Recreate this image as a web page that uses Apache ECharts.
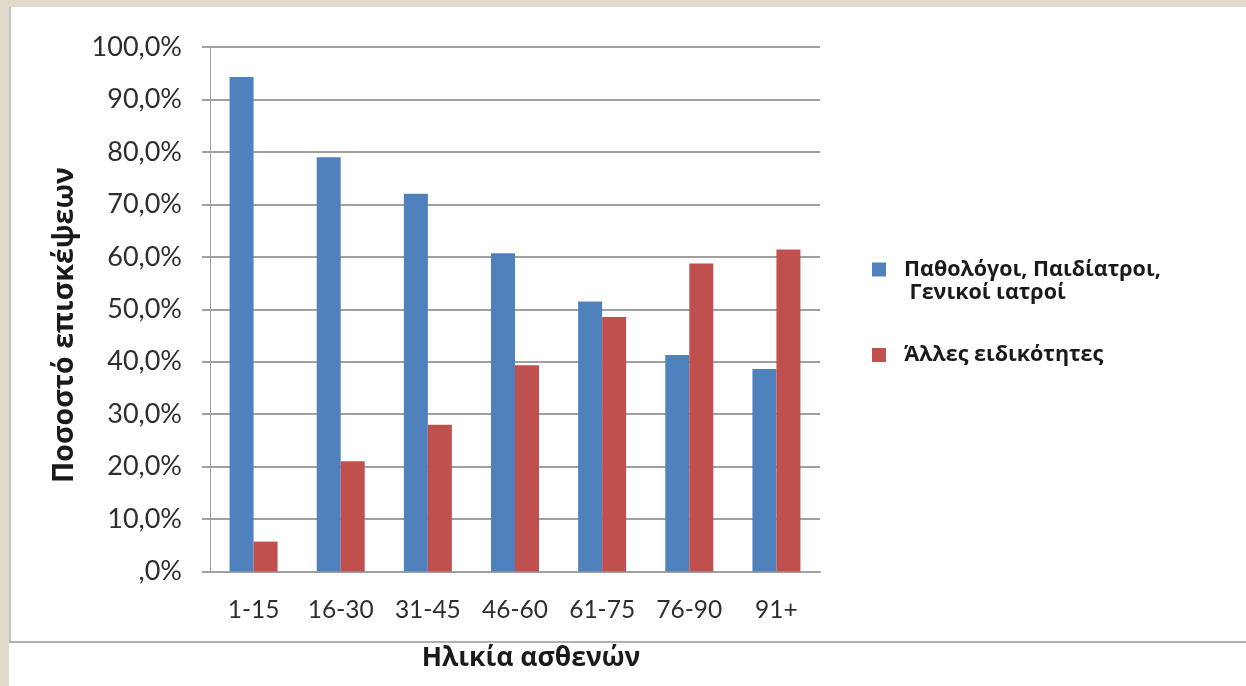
<!DOCTYPE html>
<html>
<head>
<meta charset="utf-8">
<script src="https://cdn.jsdelivr.net/npm/echarts@6/dist/echarts.min.js"></script>
<style>
  html, body { margin: 0; padding: 0; background: #e2dacd; }
  #wrap { position: relative; width: 1246px; height: 686px; overflow: hidden; }
  #panel { position: absolute; left: 9px; top: 7px; right: 0; bottom: 0; background: #ffffff; }
  #chart { position: absolute; left: 0; top: 0; width: 1246px; height: 686px; }
</style>
</head>
<body>
<div id="wrap">
  <div id="panel"></div>
  <div id="chart"></div>
</div>
<script>
// Visit share by patient age group
const ageGroups = ['1-15', '16-30', '31-45', '46-60', '61-75', '76-90', '91+'];
const generalistShare = [94.3, 79.0, 72.0, 60.7, 51.5, 41.3, 38.6];
const specialistShare = [5.7, 21.0, 28.0, 39.3, 48.5, 58.7, 61.4];
const seriesNames = ['Παθολόγοι, Παιδίατροι, Γενικοί ιατροί', 'Άλλες ειδικότητες'];
const legendLines = [['Παθολόγοι, Παιδίατροι,', ' Γενικοί ιατροί'], ['Άλλες ειδικότητες']];
const yTickLabels = [',0%', '10,0%', '20,0%', '30,0%', '40,0%', '50,0%', '60,0%', '70,0%', '80,0%', '90,0%', '100,0%'];
const yAxisTitle = 'Ποσοστό επισκέψεων';
const xAxisTitle = 'Ηλικία ασθενών';

const seriesColors = ['#4f81bd', '#c0504d'];
const labelFont = 'Lato, "Open Sans", sans-serif';
const titleFont = '"Open Sans", "Noto Sans", sans-serif';
const gridGray = '#a0a0a0';
const textDark = '#1a1a1a';
const legendLineHeight = 23;

const chart = echarts.init(document.getElementById('chart'), null, { renderer: 'canvas' });

// One legend block per series; a leading blank line keeps the swatch
// level with the first line of a wrapped name.
function legendFor(i, iconCenterY) {
  const lines = legendLines[i];
  const shown = lines.length > 1 ? ['', ...lines] : lines;
  return {
    data: [seriesNames[i]],
    left: 872,
    top: iconCenterY - (shown.length * legendLineHeight) / 2,
    padding: 0,
    orient: 'vertical',
    icon: 'rect',
    itemWidth: 14,
    itemHeight: 14,
    selectedMode: false,
    formatter: () => shown.join('\n'),
    textStyle: {
      fontFamily: titleFont,
      fontWeight: 'bold',
      fontSize: 21.5,
      color: textDark,
      lineHeight: legendLineHeight,
      padding: [0, 0, 0, 13]
    }
  };
}

chart.setOption({
  backgroundColor: 'transparent',
  animation: false,
  grid: { left: 210, right: 426, top: 47, bottom: 114.5 },
  legend: [legendFor(0, 269.5), legendFor(1, 355)],
  xAxis: {
    type: 'category',
    data: ageGroups,
    axisLine: { lineStyle: { color: gridGray, width: 2 } },
    axisTick: { show: false },
    axisLabel: { interval: 0, hideOverlap: false, fontFamily: labelFont, fontSize: 24.5, color: '#2e2e2e', margin: 26 }
  },
  yAxis: {
    type: 'value',
    min: 0,
    max: 100,
    interval: 10,
    axisLine: { show: true, lineStyle: { color: gridGray, width: 1 } },
    axisTick: { show: true, length: 8, lineStyle: { color: gridGray, width: 2 } },
    splitLine: { lineStyle: { color: gridGray, width: 2 } },
    axisLabel: {
      fontFamily: labelFont,
      fontSize: 27,
      color: '#2e2e2e',
      margin: 28,
      formatter: v => yTickLabels[Math.round(v / 10)]
    }
  },
  series: [
    {
      name: seriesNames[0],
      type: 'bar',
      data: generalistShare,
      barWidth: 24,
      barGap: '0%',
      itemStyle: { color: seriesColors[0] }
    },
    {
      name: seriesNames[1],
      type: 'bar',
      data: specialistShare,
      barWidth: 24,
      barGap: '0%',
      itemStyle: { color: seriesColors[1] }
    }
  ],
  graphic: [
    { type: 'line', shape: { x1: 10, y1: 7, x2: 10, y2: 642 }, style: { stroke: '#c4c4c4', lineWidth: 2 } },
    { type: 'line', shape: { x1: 9, y1: 642, x2: 1246, y2: 642 }, style: { stroke: '#b0b0b0', lineWidth: 2 } },
    {
      type: 'text', x: 65, y: 325, rotation: Math.PI / 2,
      style: { text: yAxisTitle, font: 'bold 28.5px ' + titleFont, fill: textDark, align: 'center', verticalAlign: 'middle' }
    },
    {
      type: 'text', x: 531, y: 658,
      style: { text: xAxisTitle, font: 'bold 26.5px ' + titleFont, fill: textDark, align: 'center', verticalAlign: 'middle' }
    }
  ]
});
</script>
</body>
</html>
